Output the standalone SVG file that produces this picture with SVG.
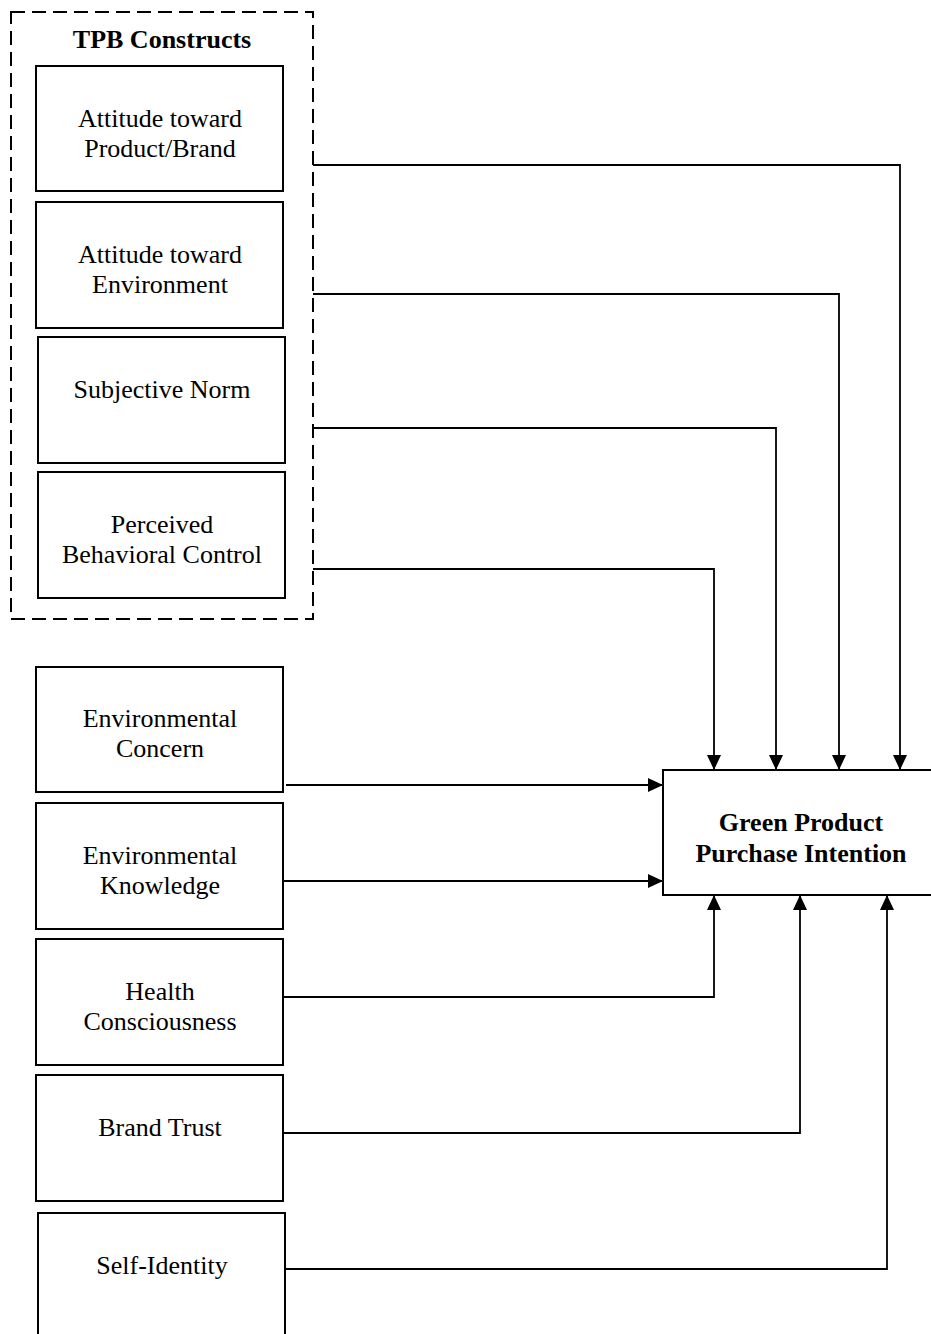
<svg xmlns="http://www.w3.org/2000/svg" width="931" height="1334" viewBox="0 0 931 1334">
<style>
.box{fill:#fff;stroke:#000;stroke-width:2}
.lbl{font-family:"Liberation Serif","Times New Roman",serif;font-size:26px;fill:#000;text-anchor:middle}
.b{font-weight:bold}
.con{fill:none;stroke:#000;stroke-width:1.8}
</style>
<defs>
<marker id="arr" viewBox="0 0 15 14" refX="15" refY="7" markerWidth="15" markerHeight="14" markerUnits="userSpaceOnUse" orient="auto">
<path d="M0,0 L15,7 L0,14 Z" fill="#000"/>
</marker>
</defs>
<rect width="931" height="1334" fill="#fff"/>
<g id="tpb-group">
<rect x="11" y="12" width="302" height="607" fill="none" stroke="#000" stroke-width="2" stroke-dasharray="14,7"/>
<text class="lbl b" x="162" y="48">TPB Constructs</text>
</g>
<g id="n-att-product">
<rect class="box" x="36" y="66" width="247" height="125"/>
<text class="lbl" x="160" y="127">Attitude toward</text>
<text class="lbl" x="160" y="157">Product/Brand</text>
</g>
<g id="n-att-env">
<rect class="box" x="36" y="202" width="247" height="126"/>
<text class="lbl" x="160" y="263">Attitude toward</text>
<text class="lbl" x="160" y="293">Environment</text>
</g>
<g id="n-subj-norm">
<rect class="box" x="38" y="337" width="247" height="126"/>
<text class="lbl" x="162" y="398">Subjective Norm</text>
</g>
<g id="n-pbc">
<rect class="box" x="38" y="472" width="247" height="126"/>
<text class="lbl" x="162" y="533">Perceived</text>
<text class="lbl" x="162" y="563">Behavioral Control</text>
</g>
<g id="n-env-concern">
<rect class="box" x="36" y="667" width="247" height="125"/>
<text class="lbl" x="160" y="727">Environmental</text>
<text class="lbl" x="160" y="757">Concern</text>
</g>
<g id="n-env-knowledge">
<rect class="box" x="36" y="803" width="247" height="126"/>
<text class="lbl" x="160" y="864">Environmental</text>
<text class="lbl" x="160" y="894">Knowledge</text>
</g>
<g id="n-health">
<rect class="box" x="36" y="939" width="247" height="126"/>
<text class="lbl" x="160" y="1000">Health</text>
<text class="lbl" x="160" y="1030">Consciousness</text>
</g>
<g id="n-brand-trust">
<rect class="box" x="36" y="1075" width="247" height="126"/>
<text class="lbl" x="160" y="1136">Brand Trust</text>
</g>
<g id="n-self-identity">
<rect class="box" x="38" y="1213" width="247" height="130"/>
<text class="lbl" x="162" y="1274">Self-Identity</text>
</g>
<g id="n-intention">
<rect class="box" x="663" y="770" width="280" height="125"/>
<text class="lbl b" x="801" y="831">Green Product</text>
<text class="lbl b" x="801" y="862">Purchase Intention</text>
</g>
<g id="connectors">
<path class="con" d="M313,165 H900 V770" marker-end="url(#arr)"/>
<path class="con" d="M313,294 H839 V770" marker-end="url(#arr)"/>
<path class="con" d="M313,428 H776 V770" marker-end="url(#arr)"/>
<path class="con" d="M313,569 H714 V770" marker-end="url(#arr)"/>
<path class="con" d="M286,785 H663" marker-end="url(#arr)"/>
<path class="con" d="M283,881 H663" marker-end="url(#arr)"/>
<path class="con" d="M283,997 H714 V895" marker-end="url(#arr)"/>
<path class="con" d="M283,1133 H800 V895" marker-end="url(#arr)"/>
<path class="con" d="M285,1269 H887 V895" marker-end="url(#arr)"/>
</g>
</svg>
